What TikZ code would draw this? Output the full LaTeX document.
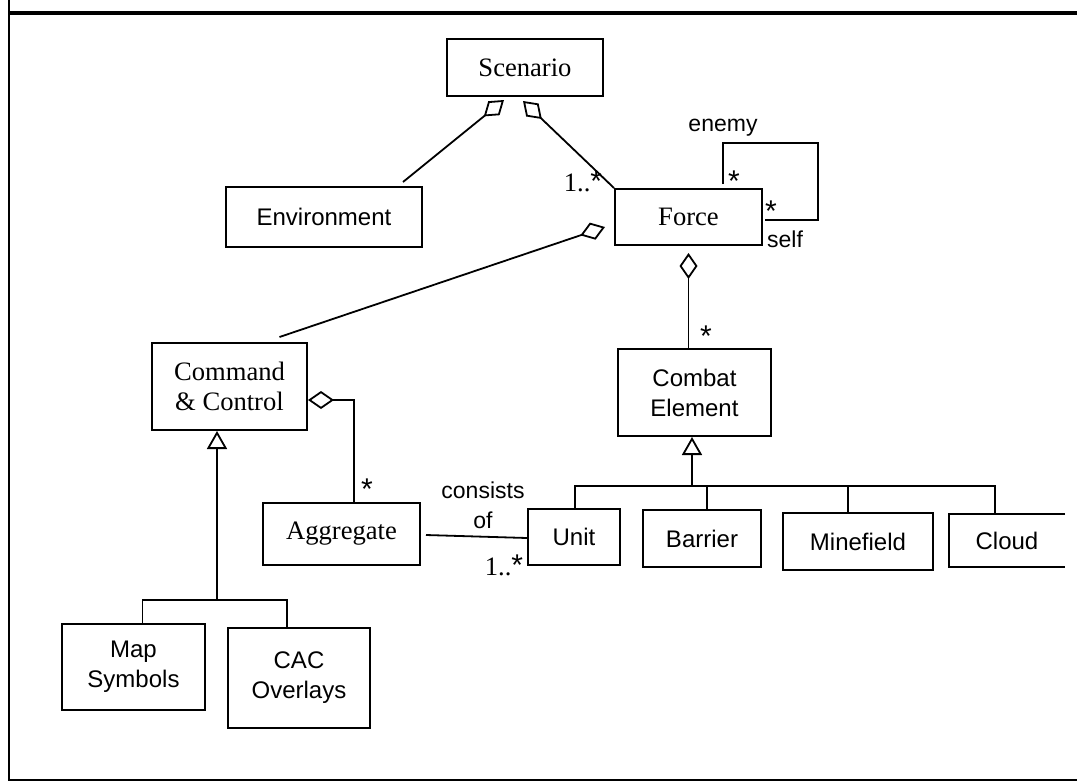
\documentclass[tikz,border=0pt]{standalone}
\usepackage{fontspec}
\setmainfont{Liberation Serif}
\newfontfamily\sansfam{Liberation Sans}
\newcommand{\serf}{\fontsize{13.3}{15}\selectfont}
\newcommand{\sanf}{\sansfam\fontsize{12}{15}\selectfont}
\newcommand{\labf}{\sansfam\fontsize{11.5}{15}\selectfont}
\newcommand{\starf}{\sansfam\fontsize{15}{15}\selectfont}
\usetikzlibrary{arrows.meta}
\usetikzlibrary{calc}
\tikzstyle{box} = [draw, line width=1pt, inner sep=0pt, align=center, font=\serf]
\tikzstyle{sbox} = [box, font=\sanf]
\tikzstyle{line} = [draw, line width=0.9pt]
\tikzstyle{agg} = [line, -{Diamond[open,length=13pt,width=9pt]}]
\tikzstyle{gen} = [line, -{Triangle[open,length=9pt,width=10pt]}]
\tikzstyle{lab} = [inner sep=0pt, align=center, font=\labf]
\tikzstyle{star} = [inner sep=0pt, font=\starf]

\begin{document}
\begin{tikzpicture}[x=0.5pt,y=-0.5pt]

\useasboundingbox (0,0) rectangle (1077,783);

%\draw[help lines] (0,0) grid (1077,783);

% frame
\draw[line width=1pt] (9,0) -- (9,780) -- (1077,780);
\draw[line width=1.6pt] (9,13) -- (1077,13);

% classes
\node[box, minimum width=78pt, minimum height=28.5pt] (scenario) at (525,67.5) {Scenario};
\node[sbox, minimum width=98pt, minimum height=30pt] (environment) at (324,217) {Environment};
\node[box, minimum width=73.5pt, minimum height=28pt] (force) at (688.5,217) {Force};
\node[box, minimum width=77.5pt, minimum height=43.5pt] (command) at (229.5,386.5) {Command\\\& Control};
\node[sbox, minimum width=76.5pt, minimum height=43.5pt] (combat) at (694.5,392.5) {Combat\\Element};
\node[box, minimum width=78.5pt, minimum height=31pt] (aggregate) at (341.5,534) {Aggregate};
\node[sbox, minimum width=46pt, minimum height=28pt] (unit) at (574,537) {Unit};
\node[sbox, minimum width=59pt, minimum height=28.5pt] (barrier) at (702,538.5) {Barrier};
\node[sbox, minimum width=75pt, minimum height=28.5pt] (minefield) at (858,541.5) {Minefield};
\node[sbox, draw=none, minimum width=57pt, minimum height=25.5pt] (cloud) at (1007,540.5) {Cloud};
\draw[line width=1pt] (cloud.north east) -- (cloud.north west) -- (cloud.south west) -- (cloud.south east);
\node[sbox, minimum width=71.5pt, minimum height=43pt] (mapsym) at (133.5,667) {Map\\Symbols};
\node[sbox, minimum width=71pt, minimum height=50pt] (cacover) at (299,678) {CAC\\Overlays};

% aggregations
\draw[agg] ($(environment.north east)+(-20,-4)$) -- ($(scenario.south)+(-21,3)$);
\draw[agg] (force.north west) -- ($(scenario.south)+(-2,4)$);
\draw[agg] ($(command.north)+(50,-5)$) -- ($(force.west)+(-9,10)$);
\draw[agg] (force.south |- combat.north) -- ($(force.south)+(0,7)$);
\draw[agg] ($(aggregate.north)+(12.5,0)$) |- ($(command.east)+(0,13.5)$);

% self association
\coordinate (selfloop) at (818,143);
\draw[line] ($(force.north east)+(-40,-4)$) |- (selfloop) |- ($(force.east)+(2,3)$);

% consists of
\draw[line] ($(aggregate.east)+(5,1)$) -- ($(unit.west)+(0,1)$);

% generalisations
\coordinate (cejoin) at (692,486);
\draw[gen] (cejoin) -- (cejoin |- combat.south);
\foreach \n/\dx in {unit/1,barrier/5,minefield/-10,cloud/-12}
	\draw[line] ($(\n.north)+(\dx,0)$) |- (cejoin);

\coordinate (ccjoin) at (217,600);
\draw[gen] (ccjoin) -- (ccjoin |- command.south);
\foreach \n/\dx in {mapsym/9,cacover/-12}
	\draw[line] ($(\n.north)+(\dx,0)$) |- (ccjoin);

% labels
\node[lab, font=\serf] (forcemult) at (583,181) {1..{\starf *}};
\node[lab] (enemy) at (723,128) {enemy};
\node[star] (enemystar) at (734,181) {*};
\node[star] (selfstar) at (771,211) {*};
\node[lab] (selflab) at (785,239) {self};
\node[star] (cestar) at (706,336) {*};
\node[star] (aggstar) at (367,489) {*};
\node[lab] (consists) at (483,505) {consists\\of};
\node[lab, font=\serf] (unitmult) at (504,565) {1..{\starf *}};

\end{tikzpicture}
\end{document}
